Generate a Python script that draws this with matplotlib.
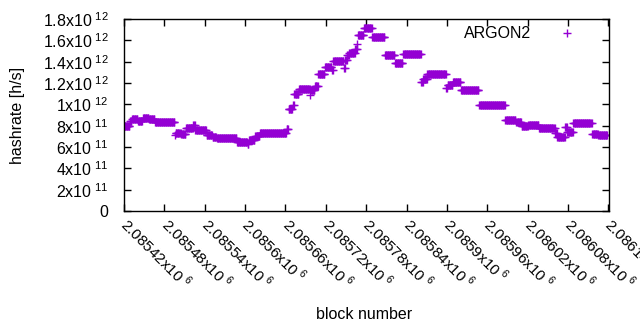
import numpy as np
import matplotlib
matplotlib.use('Agg')
import matplotlib.pyplot as plt

plt.rcParams['font.family'] = ['Liberation Sans', 'DejaVu Sans']
plt.rcParams['mathtext.fontset'] = 'custom'
plt.rcParams['mathtext.rm'] = 'Liberation Sans'

# hashrate, as runs of equal value
# seg_start = first block of the run, seg_val = hashrate in 1e12 h/s
seg_start = [2085420, 2085429, 2085432, 2085441, 2085448, 2085457, 2085466,
             2085496, 2085497, 2085505, 2085512, 2085523, 2085526, 2085543,
             2085552, 2085558, 2085588, 2085604, 2085606, 2085615, 2085622,
             2085662, 2085665, 2085671, 2085673, 2085680, 2085697, 2085698,
             2085704, 2085709, 2085719, 2085729, 2085731, 2085747, 2085749,
             2085752, 2085755, 2085764, 2085767, 2085768, 2085777, 2085789,
             2085808, 2085823, 2085835, 2085862, 2085865, 2085871, 2085899,
             2085901, 2085909, 2085921, 2085948, 2085987, 2086003, 2086011,
             2086021, 2086037, 2086061, 2086064, 2086076, 2086079, 2086088,
             2086116, 2086125]
seg_val = [0.797, 0.846, 0.862, 0.844, 0.872, 0.860, 0.830,
           0.710, 0.730, 0.720, 0.775, 0.810, 0.756, 0.710,
           0.690, 0.680, 0.650, 0.630, 0.666, 0.700, 0.728,
           0.766, 0.953, 0.990, 1.100, 1.140, 1.090, 1.134,
           1.170, 1.284, 1.353, 1.320, 1.403, 1.338, 1.420,
           1.460, 1.484, 1.515, 1.566, 1.647, 1.713, 1.630,
           1.460, 1.385, 1.472, 1.210, 1.240, 1.284, 1.150,
           1.180, 1.210, 1.134, 0.990, 0.850, 0.830, 0.797,
           0.810, 0.778, 0.730, 0.697, 0.790, 0.740, 0.828,
           0.720, 0.710]
last_block = 2086138

xticks = np.arange(2085420, 2086141, 60)
xlabels = ['2.08542', '2.08548', '2.08554', '2.0856', '2.08566', '2.08572',
           '2.08578', '2.08584', '2.0859', '2.08596', '2.08602', '2.08608',
           '2.08614']
yticks = [0, 2e11, 4e11, 6e11, 8e11, 1e12, 1.2e12, 1.4e12, 1.6e12, 1.8e12]
ylabels = ['0', '2x10', '4x10', '6x10', '8x10', '1x10', '1.2x10', '1.4x10',
           '1.6x10', '1.8x10']
yexp = ['', '11', '11', '11', '11', '12', '12', '12', '12', '12']

# one point per block
counts = np.diff(seg_start + [last_block + 1])
blocks = np.arange(seg_start[0], last_block + 1)
rate = np.repeat(np.array(seg_val) * 1e12, counts)

fig = plt.figure(figsize=(6.4, 3.3), dpi=100)
ax = fig.add_axes([0.19375, 0.3606, 0.7578, 0.5818])

ax.plot(blocks, rate, '+', color='#9400d3', markersize=5.2, mew=1.0,
        label='ARGON2')

ax.set_xlim(2085420, 2086141)
ax.set_ylim(0, 1.8e12)

ax.set_xticks(xticks)
ax.set_xticklabels([s + r'x10$^{\ 6}$' for s in xlabels], rotation=-45,
                   ha='left', va='center', rotation_mode='anchor', fontsize=11)
ax.set_yticks(yticks)
ax.set_yticklabels([s + (r'$^{\ %s}$' % e if e else '')
                    for s, e in zip(ylabels, yexp)], fontsize=11.5)

ax.tick_params(direction='in', length=5, width=1, top=True, right=True)
ax.tick_params(axis='x', pad=7)
ax.tick_params(axis='y', pad=11)
for lab in ax.get_xticklabels():
    lab.set_clip_on(False)
for sp in ax.spines.values():
    sp.set_linewidth(1)

ax.set_ylabel('hashrate [h/s]', fontsize=11.5)
ax.yaxis.set_label_coords(-0.204, 0.5)
ax.set_xlabel('block number', fontsize=11.5)
ax.xaxis.set_label_coords(0.495, -0.5)

ax.legend(loc='upper right', frameon=False, markerfirst=False,
          bbox_to_anchor=(0.959, 0.995), borderaxespad=0,
          handletextpad=1.25, fontsize=11.5)

fig.savefig('out.png', dpi=100)
